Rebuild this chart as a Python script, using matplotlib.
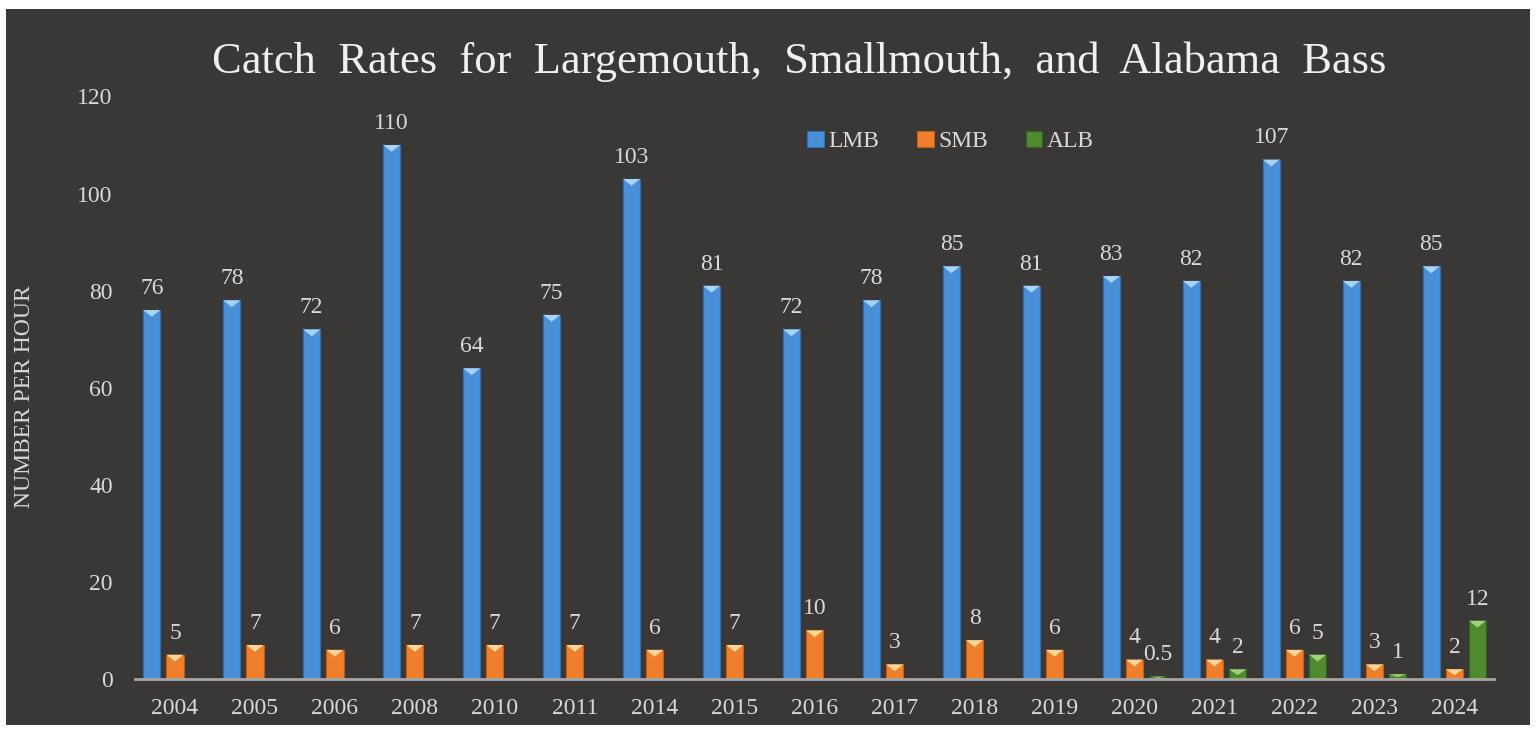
import matplotlib.pyplot as plt
from matplotlib.patches import Polygon, Rectangle
import numpy as np

years = ['2004', '2005', '2006', '2008', '2010', '2011', '2014', '2015', '2016',
         '2017', '2018', '2019', '2020', '2021', '2022', '2023', '2024']
lmb = [76, 78, 72, 110, 64, 75, 103, 81, 72, 78, 85, 81, 83, 82, 107, 82, 85]
smb = [5, 7, 6, 7, 7, 7, 6, 7, 10, 3, 8, 6, 4, 4, 6, 3, 2]
alb = [None] * 12 + [0.5, 2, 5, 1, 12]

bg = '#393837'
txt = '#d9d9d9'
plt.rcParams['font.family'] = ['Liberation Serif', 'DejaVu Serif']

fig = plt.figure(figsize=(15.36, 7.3), dpi=100)
fig.patch.set_facecolor('white')
fig.patches.append(Rectangle((6 / 1536, 5 / 730), 1524 / 1536, 716 / 730,
                             transform=fig.transFigure, facecolor=bg,
                             edgecolor='none', zorder=-10))
ax = fig.add_axes([0.0879, 0.0699, 0.885, 0.798])
ax.set_facecolor('none')

x = np.arange(len(years))
w = 0.215
off = 0.29

series = [
    ('LMB', lmb, -off, '#4a90d9', '#2f6fb5', '#a9d3f5'),
    ('SMB', smb, 0.0, '#ef7f2c', '#c25e14', '#ffd596'),
    ('ALB', alb, off, '#4f8a2e', '#35621d', '#9fd27a'),
]

for name, vals, dx, col, edge, hi in series:
    xs = [xi + dx for xi, v in zip(x, vals) if v is not None]
    vs = [v for v in vals if v is not None]
    bars = ax.bar(xs, vs, width=w, color=col, edgecolor=edge, linewidth=0.8,
                  label=name, zorder=3)
    for r, v in zip(bars, vs):
        x0, wd, h = r.get_x(), r.get_width(), r.get_height()
        th = min(1.4, h * 0.6)
        ax.add_patch(Polygon([(x0, h), (x0 + wd, h), (x0 + wd / 2, h - th)],
                             closed=True, facecolor=hi, edgecolor='none', zorder=4))
        lab = ('%g' % v)
        ax.annotate(lab, (x0 + wd / 2, h), xytext=(0, 8), textcoords='offset points',
                    ha='center', va='bottom', color=txt, fontsize=17)

ax.set_xlim(-0.5, len(years) - 0.5)
ax.set_ylim(0, 120)
ax.set_yticks(range(0, 121, 20))
ax.set_xticks(x)
ax.set_xticklabels(years)
ax.tick_params(axis='both', length=0, colors=txt, labelsize=17)
ax.tick_params(axis='y', pad=16)
ax.tick_params(axis='x', pad=14)
for s in ['top', 'right', 'left']:
    ax.spines[s].set_visible(False)
ax.spines['bottom'].set_color('#a6a6a6')
ax.spines['bottom'].set_linewidth(2)
ax.spines['bottom'].set_zorder(5)

ax.set_ylabel('NUMBER PER HOUR', color=txt, fontsize=17)
ax.yaxis.set_label_coords(-0.0735, 0.484)

fig.text(0.5205, 0.915, 'Catch  Rates  for  Largemouth,  Smallmouth,  and  Alabama  Bass',
         ha='center', va='center', color='#f0f0f0', fontsize=32)

leg = ax.legend(loc='center', bbox_to_anchor=(0.6, 0.923), ncol=3, frameon=False,
                fontsize=17, labelcolor=txt, handlelength=0.7, handleheight=0.7,
                columnspacing=1.6, handletextpad=0.2)

fig.savefig('out.png', dpi=100, facecolor=fig.get_facecolor())
